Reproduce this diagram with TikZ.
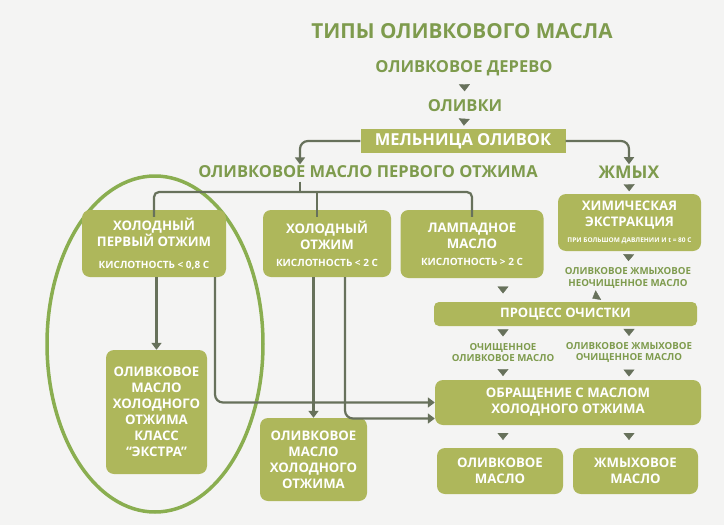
\documentclass[tikz,border=0pt]{standalone}
\usepackage{fontspec}
\setmainfont{Open Sans}
\usetikzlibrary{arrows.meta,decorations.markings,positioning}
\definecolor{olivebox}{HTML}{AEB75B}
\definecolor{olivetext}{HTML}{7E9B4D}
\definecolor{arrowgrey}{HTML}{67715B}
\definecolor{ringgreen}{HTML}{8AAE50}
\definecolor{bgpaper}{HTML}{F4F4F3}

\begin{document}
\begin{tikzpicture}[x=1pt,y=-1pt,
    heading/.style={text=olivetext,font=\bfseries\fontsize{16.5}{18}\selectfont},
    note/.style={text=olivetext,align=center,font=\bfseries\fontsize{9.7}{11.5}\selectfont},
    box/.style={fill=olivebox,rounded corners=8pt,text=white,align=center,inner sep=0pt,
      font=\bfseries\fontsize{13.2}{16}\selectfont},
    bar/.style={fill=olivebox,text=white,inner sep=0pt,font=\bfseries\fontsize{13}{16}\selectfont},
    link/.style={draw=arrowgrey,line width=2.2pt},
    tolink/.style={link,-{Triangle[width=10pt,length=7pt]}},
    midtip/.style={postaction={decorate},decoration={markings,
      mark=at position 0.5 with {\arrow[arrowgrey,xshift=3.5pt]{Triangle[width=11pt,length=7pt]}}}}]

    % Paper and frame
    \fill[bgpaper] (0,0) rectangle (724,525);
    \useasboundingbox (0,0) rectangle (724,525);

    % Ring round the extra virgin branch
    \draw[ringgreen,line width=3.5pt] (155,344) ellipse [x radius=108, y radius=168];

    % Headings on top
    \node[heading,font=\bfseries\fontsize{20.7}{22}\selectfont] (title) at (462,31) {ТИПЫ ОЛИВКОВОГО МАСЛА};
    \node[heading] (tree) at (464,68) {ОЛИВКОВОЕ ДЕРЕВО};
    \node[heading] (olives) at (465,106) {ОЛИВКИ};
    \node[bar,minimum width=205pt,minimum height=24pt,font=\bfseries\fontsize{16.5}{18}\selectfont] (mill) at (463,141) {МЕЛЬНИЦА ОЛИВОК};
    \node[heading] (first) at (368,172) {ОЛИВКОВОЕ МАСЛО ПЕРВОГО ОТЖИМА};
    \node[heading,font=\bfseries\fontsize{17.5}{19}\selectfont] (cake) at (629,172) {ЖМЫХ};

    % First press boxes
    \node[box,minimum width=144pt,minimum height=67pt] (cold1) at (154,243.5)
      {ХОЛОДНЫЙ\\ПЕРВЫЙ ОТЖИМ\\[6pt]{\fontsize{10}{11}\selectfont КИСЛОТНОСТЬ < 0,8 С}};
    \node[box,minimum width=128pt,minimum height=67pt] (cold2) at (327,243.5)
      {ХОЛОДНЫЙ\\ОТЖИМ\\[1pt]{\fontsize{10}{11}\selectfont КИСЛОТНОСТЬ < 2 С}};
    \node[box,minimum width=143pt,minimum height=68pt] (lamp) at (472,244)
      {ЛАМПАДНОЕ\\МАСЛО\\[1pt]{\fontsize{10}{11}\selectfont КИСЛОТНОСТЬ > 2 С}};

    % Pomace branch
    \node[box,minimum width=143pt,minimum height=57pt] (chem) at (629.5,222.5)
      {ХИМИЧЕСКАЯ\\ЭКСТРАКЦИЯ\\[0pt]{\fontsize{6.5}{8}\selectfont ПРИ БОЛЬШОМ ДАВЛЕНИИ И t = 80 С}};
    \node[note] (crude) at (628,278) {ОЛИВКОВОЕ ЖМЫХОВОЕ\\НЕОЧИЩЕННОЕ МАСЛО};
    \node[bar,rounded corners=5pt,minimum width=263pt,minimum height=24pt] (refine) at (565.5,314) {ПРОЦЕСС ОЧИСТКИ};
    \node[note] (refolive) at (503,352.5) {ОЧИЩЕННОЕ\\ОЛИВКОВОЕ МАСЛО};
    \node[note] (refcake) at (629,352.5) {ОЛИВКОВОЕ ЖМЫХОВОЕ\\ОЧИЩЕННОЕ МАСЛО};
    \node[box,minimum width=266pt,minimum height=45pt] (handle) at (568,402.5)
      {ОБРАЩЕНИЕ С МАСЛОМ\\ХОЛОДНОГО ОТЖИМА};
    \node[box,minimum width=126pt,minimum height=46pt] (oliveoil) at (500,471)
      {ОЛИВКОВОЕ\\МАСЛО};
    \node[box,minimum width=125pt,minimum height=46pt] (cakeoil) at (635.5,471)
      {ЖМЫХОВОЕ\\МАСЛО};

    % Final cold pressed oils
    \node[box,minimum width=101pt,minimum height=124pt] (extra) at (156.5,412)
      {ОЛИВКОВОЕ\\МАСЛО\\ХОЛОДНОГО\\ОТЖИМА\\КЛАСС\\“ЭКСТРА”};
    \node[box,minimum width=107pt,minimum height=83pt] (coldoil) at (313.5,459.5)
      {ОЛИВКОВОЕ\\МАСЛО\\ХОЛОДНОГО\\ОТЖИМА};

    % Arrowheads between stacked steps
    \path[midtip] (tree) -- (olives);
    \path[midtip] (olives) -- (mill);
    \path[midtip] (cake) -- (chem);
    \path[midtip] (chem) -- (crude);
    \path[midtip] (crude) -- (refine);
    \path[midtip] (lamp.south -| refolive) -- (refine.north -| refolive);
    \path[midtip] (refine.south -| refolive) -- (refolive);
    \path[midtip] (refine.south -| refcake) -- (refcake);
    \path[midtip] (refolive) -- (handle.north -| refolive);
    \path[midtip] (refcake) -- (handle.north -| refcake);
    \path[midtip] (handle.south -| refolive) -- (oliveoil.north -| refolive);
    \path[midtip] (handle.south -| refcake) -- (cakeoil.north -| refcake);

    % Mill splits into oil and pomace
    \draw[tolink,rounded corners=8pt] (mill.west) -| ([xshift=-68pt,yshift=-2pt]first.north);
    \draw[tolink,rounded corners=8pt] (mill.east) -| ([yshift=-2pt]cake.north);

    % Bracket under first press
    \coordinate (split) at (300,192);
    \draw[link] (first.south -| split) -- (split);
    \draw[link,rounded corners=5pt] ([yshift=-7pt]cold1.north) |- (split) -| ([yshift=-7pt]lamp.north);
    \draw[link] ([xshift=-10pt,yshift=-7pt]cold2.north) -- ([xshift=-10pt]cold2.north |- split);

    % Cold press outputs
    \draw[tolink] (extra.north |- cold1.south) -- (extra.north);
    \draw[tolink] (coldoil.north |- cold2.south) -- (coldoil.north);
    \draw[tolink,rounded corners=8pt] ([xshift=61pt]cold1.south) |- (handle.west);
    \draw[tolink,rounded corners=8pt] ([xshift=18pt]cold2.south) |- ([yshift=-16pt]handle.west);
\end{tikzpicture}
\end{document}
